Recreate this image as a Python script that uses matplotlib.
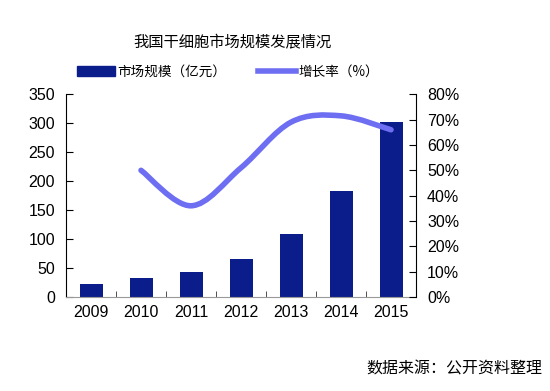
import matplotlib
matplotlib.use("Agg")
import matplotlib.pyplot as plt
import numpy as np
from matplotlib.path import Path
from matplotlib.patches import PathPatch, Patch
from matplotlib.lines import Line2D

plt.rcParams['font.family'] = ['Liberation Sans', 'Noto Sans CJK SC', 'DejaVu Sans']

years = ['2009', '2010', '2011', '2012', '2013', '2014', '2015']
market_size = [23, 33, 43, 65, 108, 183, 302]
growth_years = ['2010', '2011', '2012', '2013', '2014', '2015']
growth_rate = [50, 36, 51, 69, 71.5, 66]

bar_color = '#0b1d8a'
line_color = '#6e6ef2'

fig = plt.figure(figsize=(5.5, 3.91), dpi=100)
ax = fig.add_axes([66/550, 1-297/391, 350/550, (297-94.3)/391])
x = np.arange(len(years))
ax.bar(x, market_size, width=0.46, color=bar_color, zorder=2)
ax.set_xlim(-0.5, len(years)-0.5)
ax.set_ylim(0, 350)
ax.set_yticks(range(0, 351, 50))
ax.set_xticks(x)
ax.set_xticklabels(years)
ax.set_xticks(np.arange(0.5, len(years)-1, 1), minor=True)
ax.tick_params(axis='x', which='major', length=0, labelsize=11.5, pad=6)
ax.tick_params(axis='x', which='minor', length=4, direction='in', color='#333333')
ax.tick_params(axis='y', direction='in', length=5, labelsize=11.5, pad=8)
ax.spines['top'].set_visible(False)
ax.spines['right'].set_visible(False)
ax.spines['bottom'].set_color('#999999')

ax2 = ax.twinx()
ax2.set_ylim(0, 80)
ax2.set_yticks(range(0, 81, 10))
ax2.set_yticklabels([f'{v}%' for v in range(0, 81, 10)])
ax2.tick_params(axis='y', direction='in', length=5, labelsize=11.5, pad=8)
for s in ['top', 'left', 'bottom']:
    ax2.spines[s].set_visible(False)

# smooth (Catmull-Rom -> Bezier) curve through growth points
gx = np.array([years.index(y) for y in growth_years], dtype=float)
gy = np.array(growth_rate, dtype=float)
pts = np.column_stack([gx, gy])
verts = [tuple(pts[0])]
codes = [Path.MOVETO]
n = len(pts)
for i in range(n-1):
    p0 = pts[i-1] if i > 0 else pts[i]
    p1 = pts[i]
    p2 = pts[i+1]
    p3 = pts[i+2] if i+2 < n else pts[i+1]
    c1 = p1 + (p2 - p0) / 6
    c2 = p2 - (p3 - p1) / 6
    verts += [tuple(c1), tuple(c2), tuple(p2)]
    codes += [Path.CURVE4]*3
path = Path(verts, codes)
ax2.add_patch(PathPatch(path, facecolor='none', edgecolor=line_color, lw=4, capstyle='round', zorder=3))

fig.text(232/550, 1-42/391, '我国干细胞市场规模发展情况', ha='center', va='center',
         fontsize=11, family=['Noto Sans CJK SC', 'DejaVu Sans'])

handles = [Patch(facecolor=bar_color, edgecolor=bar_color),
           Line2D([0], [0], color=line_color, lw=4)]
fig.legend(handles, ['市场规模（亿元）', '增长率（%）'], loc='center',
           bbox_to_anchor=(228/550, 1-72/391), ncol=2, frameon=False,
           prop={'family': ['Noto Sans CJK SC'], 'size': 9.8},
           handlelength=2.8, handletextpad=0.2, columnspacing=2.3)

fig.text(542/550, 1-369/391, '数据来源：公开资料整理', ha='right', va='center',
         fontsize=11.5, family=['Noto Sans CJK SC', 'DejaVu Sans'])

fig.savefig('out.png', dpi=100)
